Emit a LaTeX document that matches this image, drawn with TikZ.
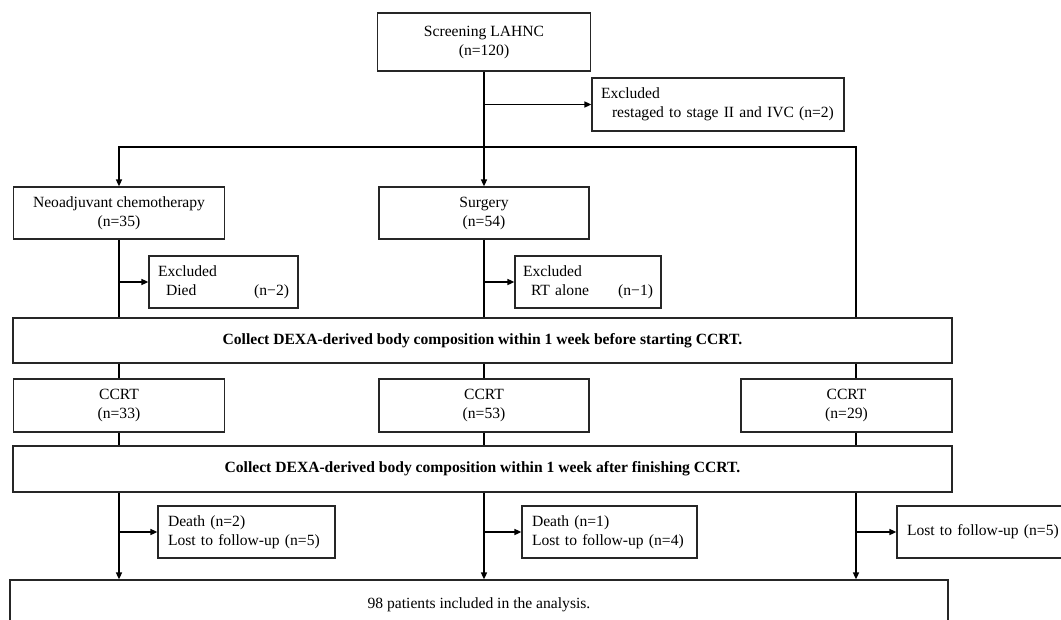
\documentclass[tikz,border=0pt]{standalone}
\usepackage{fontspec}
\setmainfont{Liberation Serif}
\usetikzlibrary{positioning,arrows.meta}

\begin{document}
\begin{tikzpicture}[x=1pt,y=-1pt,
        font=\fontsize{15.6}{19}\selectfont,
        box/.style={draw=black!85,line width=1.2pt,inner sep=0pt,
                    align=center},
        exbox/.style={box,align=left},
        link/.style={line width=1.5pt},
        arr/.style={link,-{Triangle[length=7pt,width=6pt]}}]
        \useasboundingbox (0,0) rectangle (1061,619);
        \clip (0,0) rectangle (1061,619);
        % columns
        \foreach \i/\x in {1/119,2/484,3/856}{
          \coordinate (col\i) at (\x,147);
        }
        % top
        \node[box,minimum width=213pt,minimum height=58pt] (screen)
          at (484,42) {Screening LAHNC\\(n=120)};
        \node[exbox,minimum width=252pt,minimum height=53pt,text width=234pt]
          (exc0) at (718,104.5)
          {Excluded\\\mbox{\hspace*{11pt}restaged to stage II and IVC (n=2)}};
        % arms
        \node[box,minimum width=211pt,minimum height=52pt] (neo)
          at (119,213) {Neoadjuvant chemotherapy\\(n=35)};
        \node[box,minimum width=210pt,minimum height=52pt] (surg)
          at (484,213) {Surgery\\(n=54)};
        \node[exbox,minimum width=149pt,minimum height=52pt,text width=131pt]
          (exc1) at (223.5,282)
          {Excluded\\\hspace*{8pt}Died\hfill(n\textminus 2)};
        \node[exbox,minimum width=146pt,minimum height=52pt,text width=130pt]
          (exc2) at (588,282)
          {Excluded\\\hspace*{8pt}RT alone\hfill(n\textminus 1)};
        % DEXA rows
        \node[box,minimum width=939pt,minimum height=45pt] (dexa1)
          at (482.5,340.5)
          {\textbf{Collect DEXA-derived body composition within 1 week before starting CCRT.}};
        \foreach \i/\x/\n/\w in {1/119/33/211,2/484/53/210,3/846.5/29/211}{
          \node[box,minimum width=\w pt,minimum height=53pt] (ccrt\i)
            at (\x,405.5) {CCRT\\(n=\n)};
        }
        \node[box,minimum width=939pt,minimum height=46pt] (dexa2)
          at (482.5,469)
          {\textbf{Collect DEXA-derived body composition within 1 week after finishing CCRT.}};
        % losses
        \node[exbox,minimum width=177pt,minimum height=52pt,text width=157pt]
          (out1) at (246.5,532) {Death (n=2)\\Lost to follow-up (n=5)};
        \node[exbox,minimum width=175pt,minimum height=52pt,text width=155pt]
          (out2) at (609.5,532) {Death (n=1)\\Lost to follow-up (n=4)};
        \node[exbox,minimum width=180pt,minimum height=52pt,text width=160pt]
          (out3) at (987,532) {Lost to follow-up (n=5)};
        \node[box,minimum width=938pt,minimum height=50pt] (final)
          at (479,605) {98 patients included in the analysis.};
        % connectors
        \draw[link] (screen.south) -- (col2);
        \draw[arr] (screen.south |- exc0) -- (exc0.west);
        \draw[arr] (col2) -| (neo.north);
        \draw[arr] (col2) -- (surg.north);
        \draw[link] (col2) -- (col3) -- (col3 |- dexa1.north);
        \draw[link] (neo.south) -- (neo.south |- dexa1.north);
        \draw[link] (surg.south) -- (surg.south |- dexa1.north);
        \draw[arr] (neo.south |- exc1) -- (exc1.west);
        \draw[arr] (surg.south |- exc2) -- (exc2.west);
        \foreach \i in {1,2,3}{
          \draw[link] (col\i |- dexa1.south) -- (col\i |- ccrt\i.north);
          \draw[link] (col\i |- ccrt\i.south) -- (col\i |- dexa2.north);
          \draw[arr] (col\i |- dexa2.south) -- (col\i |- final.north);
          \draw[arr] (col\i |- out\i) -- (out\i.west);
        }
      \end{tikzpicture}
\end{document}
